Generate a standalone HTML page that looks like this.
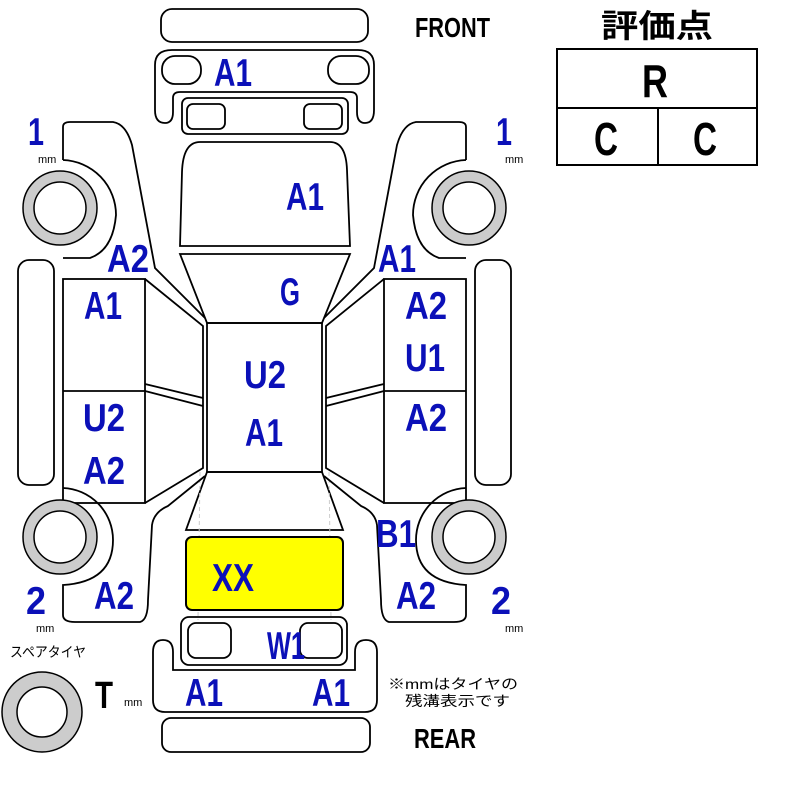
<!DOCTYPE html>
<html><head><meta charset="utf-8"><style>
html,body{margin:0;padding:0;background:#fff;width:800px;height:800px;overflow:hidden}
svg{display:block}
.l{fill:none;stroke:#000;stroke-width:1.8}
.b{fill:#0b10b8;font-family:"Liberation Sans Narrow","Liberation Sans",sans-serif;font-weight:bold}
.k{fill:#000;font-family:"Liberation Sans Narrow","Liberation Sans",sans-serif}
.t{fill:#ccc;stroke:#000;stroke-width:1.5}
.ti{fill:#fff;stroke:#000;stroke-width:1.5}
</style></head><body>
<svg width="800" height="800" viewBox="0 0 800 800" xmlns="http://www.w3.org/2000/svg">
<rect class="l" x="161" y="9" width="207" height="33" rx="11"/>
<path class="l" d="M165,123 Q155,123 155,110 L155,65 Q155,50 172,50 L358,50 Q374,50 374,65 L374,110 Q374,123 365,123 Q357,123 357,112 L357,98 Q357,92 350,92 L180,92 Q173,92 173,98 L173,112 Q173,123 165,123 Z"/>
<rect class="l" x="162" y="56" width="39" height="28" rx="13"/>
<rect class="l" x="328" y="56" width="41" height="28" rx="13"/>
<rect class="l" x="182" y="98" width="166" height="36" rx="6"/>
<rect class="l" x="187" y="104" width="38" height="25" rx="6"/>
<rect class="l" x="304" y="104" width="38" height="25" rx="6"/>
<path class="l" d="M180,246 L182,172 Q183,142 200,142 L330,142 Q346,142 347,170 L350,246 Z"/>
<path class="l" d="M180,254 L350,254 L322,323 L207,323 Z"/>
<rect class="l" x="207" y="323" width="115" height="149"/>
<path class="l" d="M207,472 L322,472 L343,530 L186,530 Z"/>
<line x1="200" y1="472" x2="198" y2="620" stroke="#ccc" stroke-dasharray="4,3"/>
<line x1="329" y1="472" x2="331" y2="620" stroke="#ccc" stroke-dasharray="4,3"/>
<rect x="186" y="537" width="157" height="73" rx="6" fill="#ffff00" stroke="#000" stroke-width="2"/>
<rect class="l" x="181" y="617" width="166" height="48" rx="8"/>
<rect class="l" x="188" y="623" width="43" height="35" rx="8"/>
<rect class="l" x="300" y="623" width="42" height="35" rx="8"/>
<path class="l" d="M163,640 Q173,640 173,652 L173,670 L355,670 L355,652 Q355,640 366,640 Q377,640 377,652 L377,700 Q377,712 365,712 L165,712 Q153,712 153,700 L153,652 Q153,640 163,640 Z"/>
<rect class="l" x="162" y="718" width="208" height="34" rx="9"/>
<g id="side">
<rect class="l" x="18" y="260" width="36" height="225" rx="11"/>
<path class="l" d="M63,160 L63,127 Q63,122 70,122 L113,122 Q126,124 132,145 L155,268 L205,318"/>
<path class="l" d="M63,258 L90,258 Q113,250 116,215 A55,55 0 0 0 63,160"/>
<rect class="l" x="63" y="279" width="82" height="224"/>
<line class="l" x1="63" y1="391" x2="145" y2="391"/>
<path class="l" d="M145,279 L203,326 L203,468 L145,503"/>
<path class="l" d="M145,384 L203,398 M145,391 L203,406"/>
<path class="l" d="M63,488 A52,52 0 0 1 113,540 Q113,582 63,585 L63,615 Q63,622 75,622 L140,622 Q148,620 148,600 L152,525 Q154,512 168,506 L205,476"/>
<circle class="t" cx="60" cy="208" r="37"/><circle class="ti" cx="60" cy="208" r="26"/>
<circle class="t" cx="60" cy="537" r="37"/><circle class="ti" cx="60" cy="537" r="26"/>
</g>
<use href="#side" transform="translate(529,0) scale(-1,1)"/>
<circle class="t" cx="42" cy="712" r="40"/><circle class="ti" cx="42" cy="712" r="25"/>
<g class="b" font-size="39">
<text x="214" y="86" textLength="38" lengthAdjust="spacingAndGlyphs">A1</text>
<text x="286" y="210" textLength="38" lengthAdjust="spacingAndGlyphs">A1</text>
<text x="107" y="272" textLength="42" lengthAdjust="spacingAndGlyphs">A2</text>
<text x="378" y="272" textLength="38" lengthAdjust="spacingAndGlyphs">A1</text>
<text x="280" y="305" textLength="20" lengthAdjust="spacingAndGlyphs">G</text>
<text x="84" y="319" textLength="38" lengthAdjust="spacingAndGlyphs">A1</text>
<text x="405" y="319" textLength="42" lengthAdjust="spacingAndGlyphs">A2</text>
<text x="405" y="371" textLength="40" lengthAdjust="spacingAndGlyphs">U1</text>
<text x="244" y="388" textLength="42" lengthAdjust="spacingAndGlyphs">U2</text>
<text x="245" y="446" textLength="38" lengthAdjust="spacingAndGlyphs">A1</text>
<text x="83" y="431" textLength="42" lengthAdjust="spacingAndGlyphs">U2</text>
<text x="405" y="431" textLength="42" lengthAdjust="spacingAndGlyphs">A2</text>
<text x="83" y="484" textLength="42" lengthAdjust="spacingAndGlyphs">A2</text>
<text x="376" y="547" textLength="40" lengthAdjust="spacingAndGlyphs">B1</text>
<text x="212" y="591" textLength="42" lengthAdjust="spacingAndGlyphs">XX</text>
<text x="94" y="609" textLength="40" lengthAdjust="spacingAndGlyphs">A2</text>
<text x="396" y="609" textLength="40" lengthAdjust="spacingAndGlyphs">A2</text>
<text x="267" y="659" textLength="38" lengthAdjust="spacingAndGlyphs">W1</text>
<text x="185" y="706" textLength="38" lengthAdjust="spacingAndGlyphs">A1</text>
<text x="312" y="706" textLength="38" lengthAdjust="spacingAndGlyphs">A1</text>
<text x="28" y="145" textLength="16" lengthAdjust="spacingAndGlyphs">1</text>
<text x="496" y="145" textLength="16" lengthAdjust="spacingAndGlyphs">1</text>
<text x="26" y="614" textLength="20" lengthAdjust="spacingAndGlyphs">2</text>
<text x="491" y="614" textLength="20" lengthAdjust="spacingAndGlyphs">2</text>
</g>
<g class="k" font-size="11">
<text x="38" y="163">mm</text><text x="505" y="163">mm</text>
<text x="36" y="632">mm</text><text x="505" y="632">mm</text>
<text x="124" y="706">mm</text>
</g>
<text class="k" x="95" y="708" font-size="38" font-weight="bold" textLength="18" lengthAdjust="spacingAndGlyphs">T</text>
<text x="10" y="657" font-size="14" fill="#000" font-family="'Liberation Sans','Noto Sans CJK JP',sans-serif" textLength="76" lengthAdjust="spacingAndGlyphs">スペアタイヤ</text>
<text x="388" y="689" font-size="14" fill="#000" font-family="'Liberation Sans','Noto Sans CJK JP',sans-serif" textLength="130" lengthAdjust="spacingAndGlyphs">※mmはタイヤの</text>
<text x="405" y="706" font-size="14" fill="#000" font-family="'Liberation Sans','Noto Sans CJK JP',sans-serif" textLength="105" lengthAdjust="spacingAndGlyphs">残溝表示です</text>
<text class="k" x="415" y="37" font-size="28" font-weight="bold" textLength="75" lengthAdjust="spacingAndGlyphs">FRONT</text>
<text class="k" x="414" y="748" font-size="28" font-weight="bold" textLength="62" lengthAdjust="spacingAndGlyphs">REAR</text>
<text x="601" y="37" font-size="32" font-weight="bold" fill="#000" font-family="'Liberation Sans','Noto Sans CJK JP',sans-serif" textLength="112" lengthAdjust="spacingAndGlyphs">評価点</text>
<rect x="557" y="49" width="200" height="116" fill="none" stroke="#000" stroke-width="2"/>
<line x1="557" y1="108" x2="757" y2="108" stroke="#000" stroke-width="2"/>
<line x1="658" y1="108" x2="658" y2="165" stroke="#000" stroke-width="2"/>
<g class="k" font-size="46" font-weight="bold">
<text x="642" y="97" textLength="26" lengthAdjust="spacingAndGlyphs">R</text>
<text x="594" y="155" textLength="24" lengthAdjust="spacingAndGlyphs">C</text>
<text x="693" y="155" textLength="24" lengthAdjust="spacingAndGlyphs">C</text>
</g>
</svg>
</body></html>
